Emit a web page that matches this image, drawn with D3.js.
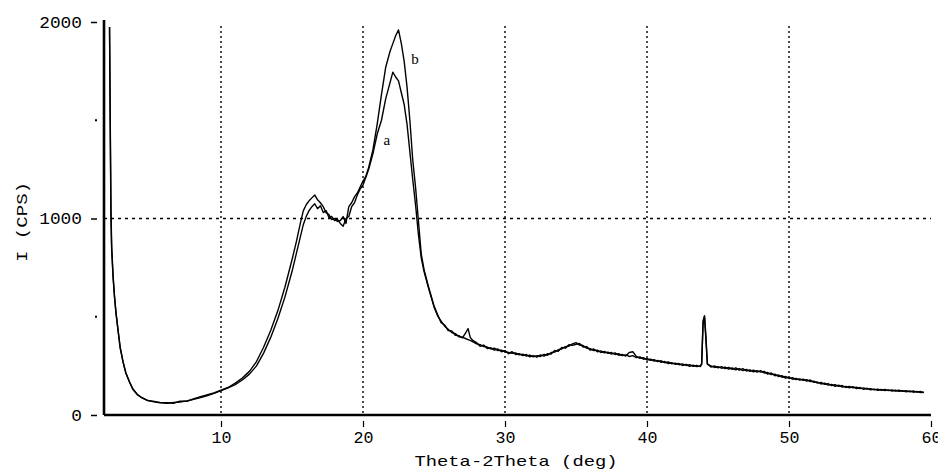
<!DOCTYPE html>
<html>
<head>
<meta charset="utf-8">
<script src="https://cdn.jsdelivr.net/npm/d3@7"></script>
<style>
  body { margin: 0; background: #fff; }
  svg { display: block; }
  .tick text { font-family: "Liberation Mono", "DejaVu Sans Mono", monospace; font-size: 16px; fill: #000; }
  .axis-title { font-family: "Liberation Mono", "DejaVu Sans Mono", monospace; font-size: 15px; fill: #000; }
  .curve { fill: none; stroke: #000; stroke-width: 1.4; stroke-linejoin: round; }
  .grid { stroke: #000; stroke-width: 1.4; }
  .curve-label { font-family: "Liberation Serif", serif; font-size: 15px; fill: #000; }
</style>
</head>
<body>
<div id="xrd-graphic"></div>
<script>
// 2theta positions (deg)
var twoTheta = [2.15, 2.2, 2.25, 2.3, 2.4, 2.5, 2.6, 2.75, 2.9, 3.1, 3.3, 3.55, 3.8, 4.1, 4.4, 4.8, 5.2, 5.7, 6.2, 6.7,
  7.1, 7.6, 8.0, 8.5, 9.0, 9.5, 10.0, 10.5, 11.0, 11.5, 12.0, 12.5, 13.0, 13.5, 14.0, 14.5, 15.0, 15.3, 15.6, 15.8,
  16.0, 16.2, 16.4, 16.6, 16.8, 17.0, 17.2, 17.4, 17.6, 17.8, 18.0, 18.2, 18.4, 18.6, 18.8, 19.0, 19.2, 19.4, 19.6, 19.8,
  20.0, 20.2, 20.4, 20.7, 21.0, 21.3, 21.6, 21.9, 22.1, 22.3, 22.5, 22.7, 22.9, 23.1, 23.3, 23.5, 23.7, 23.9, 24.1, 24.3,
  24.6, 25.0, 25.25, 25.5, 25.75, 26.0, 26.25, 26.5, 26.75, 27.0, 27.25, 27.4, 27.55, 27.75, 28.0, 28.25, 28.5, 28.75, 29.0, 29.25,
  29.5, 29.75, 30.0, 30.25, 30.5, 30.75, 31.0, 31.25, 31.5, 31.75, 32.0, 32.25, 32.5, 32.75, 33.0, 33.25, 33.5, 33.75, 34.0, 34.25,
  34.5, 34.75, 35.0, 35.25, 35.5, 35.75, 36.0, 36.25, 36.5, 36.75, 37.0, 37.25, 37.5, 37.75, 38.0, 38.25, 38.5, 38.75, 39.0, 39.25,
  39.5, 39.75, 40.0, 40.25, 40.5, 40.75, 41.0, 41.25, 41.5, 41.75, 42.0, 42.25, 42.5, 42.75, 43.0, 43.25, 43.5, 43.75, 43.85, 43.95,
  44.05, 44.15, 44.25, 44.5, 44.75, 45.0, 45.25, 45.5, 45.75, 46.0, 46.25, 46.5, 46.75, 47.0, 47.25, 47.5, 47.75, 48.0, 48.25, 48.5,
  48.75, 49.0, 49.25, 49.5, 49.75, 50.0, 50.25, 50.5, 50.75, 51.0, 51.25, 51.5, 51.75, 52.0, 52.25, 52.5, 52.75, 53.0, 53.25, 53.5,
  53.75, 54.0, 54.25, 54.5, 54.75, 55.0, 55.25, 55.5, 55.75, 56.0, 56.25, 56.5, 56.75, 57.0, 57.25, 57.5, 57.75, 58.0, 58.25, 58.5,
  58.75, 59.0, 59.25, 59.5];

// sample a (CPS)
var countsA = [1975, 1450, 1000, 840, 700, 600, 520, 430, 345, 270, 212, 168, 132, 106, 88, 76, 68, 62, 60, 64,
  66, 72, 78, 88, 98, 110, 124, 138, 155, 178, 208, 250, 315, 395, 490, 600, 730, 820, 910, 970,
  1010, 1040, 1060, 1075, 1050, 1065, 1030, 1040, 1005, 1010, 990, 995, 975, 960, 1000, 1010, 1060, 1080, 1120, 1150,
  1170, 1210, 1250, 1330, 1430, 1500, 1610, 1690, 1745, 1720, 1700, 1640, 1580, 1480, 1340, 1200, 1070, 920, 800, 730,
  650, 550, 505, 478, 452, 436, 420, 414, 398, 396, 388, 384, 380, 372, 362, 358, 348, 346, 336, 340,
  328, 330, 322, 318, 314, 316, 306, 310, 300, 304, 296, 302, 298, 308, 304, 318, 320, 332, 336, 348,
  350, 362, 368, 356, 354, 340, 338, 328, 330, 318, 324, 314, 318, 308, 312, 302, 306, 298, 302, 292,
  296, 284, 288, 278, 282, 272, 276, 266, 270, 260, 264, 256, 260, 252, 256, 248, 252, 246, 258, 480,
  505, 400, 262, 244, 250, 240, 246, 236, 242, 232, 240, 228, 236, 224, 230, 220, 226, 218, 222, 208,
  214, 200, 204, 192, 196, 186, 190, 180, 184, 176, 180, 170, 172, 162, 166, 156, 160, 150, 154, 146,
  150, 140, 146, 138, 142, 134, 138, 132, 134, 128, 132, 126, 130, 124, 128, 122, 126, 120, 124, 118,
  122, 116, 120, 114];

// sample b (CPS)
var countsB = [1975, 1500, 1050, 860, 710, 605, 525, 432, 340, 272, 215, 170, 130, 104, 90, 74, 70, 64, 62, 60,
  70, 70, 80, 92, 102, 112, 126, 140, 162, 188, 222, 272, 345, 430, 530, 650, 790, 880, 980, 1040,
  1070, 1090, 1105, 1120, 1095, 1080, 1060, 1030, 1020, 995, 1000, 985, 990, 1010, 975, 1060, 1080, 1110, 1130, 1160,
  1190, 1215, 1260, 1350, 1480, 1630, 1770, 1850, 1890, 1930, 1960, 1890, 1800, 1670, 1500, 1300, 1160, 990, 820, 740,
  655, 556, 512, 470, 458, 430, 428, 406, 404, 392, 420, 440, 395, 378, 368, 350, 356, 338, 342, 330,
  336, 322, 328, 312, 322, 308, 312, 302, 308, 296, 302, 294, 306, 300, 312, 310, 328, 324, 344, 340,
  358, 354, 360, 364, 346, 348, 330, 336, 322, 326, 316, 320, 310, 316, 304, 308, 300, 318, 322, 298,
  288, 292, 280, 284, 274, 278, 268, 272, 262, 266, 258, 262, 252, 258, 248, 254, 246, 250, 262, 470,
  500, 380, 258, 250, 242, 246, 238, 244, 234, 240, 230, 236, 226, 232, 222, 228, 218, 226, 214, 216,
  206, 208, 196, 200, 188, 192, 182, 186, 178, 182, 172, 178, 166, 168, 158, 162, 152, 156, 146, 152,
  142, 146, 138, 144, 134, 140, 130, 136, 128, 132, 126, 130, 124, 128, 122, 126, 120, 124, 118, 122,
  116, 120, 114, 116];

var xTicks = [10, 20, 30, 40, 50, 60];
var yTicks = [0, 1000, 2000];
var yMinorTicks = [500, 1500];
var curveNames = ["a", "b"];
var curveLabelAt = [[21.67, 1400], [23.66, 1810]];

var margin = {top: 22, right: 7, bottom: 57, left: 104},
    width = 938 - margin.left - margin.right,
    height = 472 - margin.top - margin.bottom;

var svg = d3.select("#xrd-graphic").append("svg")
    .attr("width", 938)
    .attr("height", 472);

var g = svg.append("g").attr("transform", "translate(" + margin.left + "," + margin.top + ")");

var x = d3.scaleLinear().domain([1.76, 60]).range([0, 827]);
var y = d3.scaleLinear().domain([0, 2000]).range([height, 0]);

// dotted grid
g.append("g")
  .selectAll("line")
  .data(xTicks.filter(function(d) { return d < 60; }))
  .enter().append("line")
    .attr("class", "grid")
    .attr("x1", function(d) { return x(d); })
    .attr("x2", function(d) { return x(d); })
    .attr("y1", 4)
    .attr("y2", height - 2)
    .attr("stroke-dasharray", "2,3");

g.append("line")
    .attr("class", "grid")
    .attr("x1", 0)
    .attr("x2", width)
    .attr("y1", y(1000))
    .attr("y2", y(1000))
    .attr("stroke-dasharray", "3,4");

// x axis
var xAxis = g.append("g")
    .attr("transform", "translate(0," + height + ")")
    .call(d3.axisBottom(x).tickValues(xTicks).tickSize(0).tickPadding(17).tickFormat(d3.format("d")));
xAxis.select(".domain").remove();
xAxis.selectAll(".tick text").attr("textLength", 20).attr("lengthAdjust", "spacingAndGlyphs");
xAxis.selectAll(".tick").append("line")
    .attr("y1", 6).attr("y2", 12)
    .attr("stroke", "#000").attr("stroke-width", 1.2);

// y axis
var yAxis = g.append("g")
    .call(d3.axisLeft(y).tickValues(yTicks).tickSize(0).tickPadding(22).tickFormat(d3.format("d")));
yAxis.select(".domain").remove();
yAxis.selectAll(".tick text")
    .attr("textLength", function(d) { return String(d).length * 10.7; })
    .attr("lengthAdjust", "spacingAndGlyphs");
yAxis.selectAll(".tick").append("line")
    .attr("x1", -13).attr("x2", -7)
    .attr("stroke", "#000").attr("stroke-width", 1.5);

g.append("g")
  .selectAll("line")
  .data(yMinorTicks)
  .enter().append("line")
    .attr("x1", -9).attr("x2", -7)
    .attr("y1", function(d) { return y(d); })
    .attr("y2", function(d) { return y(d); })
    .attr("stroke", "#000").attr("stroke-width", 2);

// axis lines
g.append("line")
    .attr("x1", 0).attr("x2", width)
    .attr("y1", height).attr("y2", height)
    .attr("stroke", "#000").attr("stroke-width", 2.6);
g.append("line")
    .attr("x1", 0).attr("x2", 0)
    .attr("y1", -2).attr("y2", height)
    .attr("stroke", "#000").attr("stroke-width", 2.6);

// curves
var line = d3.line()
    .x(function(d) { return x(d[0]); })
    .y(function(d) { return y(d[1]); });

[countsA, countsB].forEach(function(counts) {
  g.append("path")
      .attr("class", "curve")
      .attr("d", line(twoTheta.map(function(t, i) { return [t, counts[i]]; })));
});

g.selectAll(".curve-label")
  .data(curveNames)
  .enter().append("text")
    .attr("class", "curve-label")
    .attr("text-anchor", "middle")
    .attr("x", function(d, i) { return x(curveLabelAt[i][0]); })
    .attr("y", function(d, i) { return y(curveLabelAt[i][1]) + 5; })
    .text(function(d) { return d; });

// titles
svg.append("text")
    .attr("class", "axis-title")
    .attr("x", 516)
    .attr("y", 466)
    .attr("text-anchor", "middle")
    .attr("textLength", 203)
    .attr("lengthAdjust", "spacingAndGlyphs")
    .text("Theta-2Theta (deg)");

svg.append("text")
    .attr("class", "axis-title")
    .attr("transform", "translate(27,222) rotate(-90)")
    .attr("text-anchor", "middle")
    .attr("textLength", 80)
    .attr("lengthAdjust", "spacingAndGlyphs")
    .text("I (CPS)");
</script>
</body>
</html>
